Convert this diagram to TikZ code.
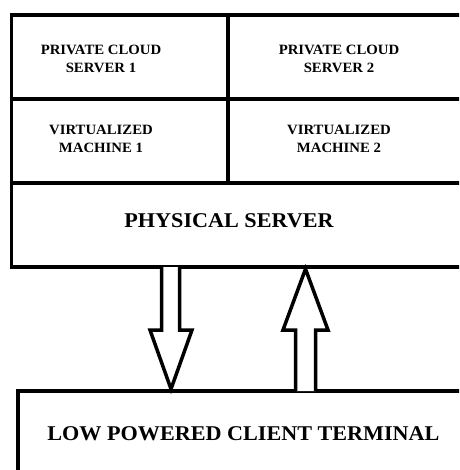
\documentclass[tikz,border=0pt]{standalone}
\usepackage{fontspec}
\setmainfont{Liberation Serif}
\newfontfamily\smallwide[FakeStretch=1.04]{Liberation Serif}
\newfontfamily\bigwide[FakeStretch=1.055]{Liberation Serif}
\begin{document}
\begin{tikzpicture}[x=1pt,y=-1pt,
  frame/.style={draw=black,line width=3.5pt,line join=miter},
  fatarrow/.style={draw=black,line width=3.5pt,line join=miter,fill=white},
  small/.style={font=\smallwide\bfseries\fontsize{14.2}{18}\selectfont,align=center,inner sep=0pt},
  big/.style={font=\bigwide\bfseries\fontsize{21}{24}\selectfont,align=center,inner sep=0pt}]
\clip (0,0) rectangle (459,470);
% server stack
\draw[frame] (11.5,15) rectangle (480,267);
\draw[frame] (11.5,99) -- (480,99);
\draw[frame] (11.5,183) -- (480,183);
\draw[frame] (228,15) -- (228,183);
% client box
\draw[frame] (18,391) rectangle (480,490);
% labels
\node[small] (pc1) at (101,59.2) {PRIVATE CLOUD\\SERVER 1};
\node[small] (pc2) at (339,58.5) {PRIVATE CLOUD\\SERVER 2};
\node[small] (vm1) at (101,139) {VIRTUALIZED\\MACHINE 1};
\node[small] (vm2) at (339,139) {VIRTUALIZED\\MACHINE 2};
\node[big] (phys) at (229,220.7) {PHYSICAL SERVER};
\node[big] (client) at (243.5,433.3) {LOW POWERED CLIENT TERMINAL};
% arrows
\draw[fatarrow] (161.5,267) -- (161.5,330) -- (150,330) -- (171,389) -- (192,330) -- (179.5,330) -- (179.5,267);
\draw[fatarrow] (295.5,391) -- (295.5,330) -- (283,330) -- (305.5,269) -- (328,330) -- (315.5,330) -- (315.5,391);
\end{tikzpicture}
\end{document}
